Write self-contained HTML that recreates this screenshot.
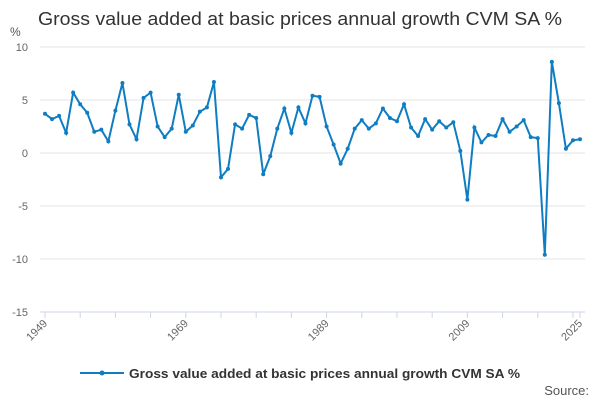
<!DOCTYPE html>
<html><head><meta charset="utf-8"><style>
body{margin:0;background:#fff;font-family:"Liberation Sans",sans-serif}
svg text{font-family:"Liberation Sans",sans-serif}
</style></head><body>
<svg width="600" height="400">
<text x="300" y="25" font-size="18" fill="#333" text-anchor="middle" textLength="524" lengthAdjust="spacingAndGlyphs">Gross value added at basic prices annual growth CVM SA %</text>
<text x="10" y="36" font-size="12" fill="#555">%</text>
<g id="grid"></g><g id="xaxis"></g>
<polyline id="line" fill="none" stroke="#0f7dc2" stroke-width="2"/>
<g id="pts"></g>
<line x1="80" y1="373" x2="124" y2="373" stroke="#0f7dc2" stroke-width="2"/>
<circle cx="102" cy="373" r="2.5" fill="#0f7dc2"/>
<text x="129" y="378" font-size="13" font-weight="bold" fill="#333" textLength="391" lengthAdjust="spacingAndGlyphs">Gross value added at basic prices annual growth CVM SA %</text>
<text x="589" y="395" font-size="13" fill="#555" text-anchor="end">Source:</text>
</svg>
<script>
const years=[];for(let y=1949;y<=2025;y++)years.push(y);
const values=[3.7,3.2,3.5,1.9,5.7,4.6,3.8,2.0,2.2,1.1,4.0,6.6,2.7,1.3,5.2,5.7,2.5,1.5,2.3,5.5,2.0,2.6,3.9,4.3,6.7,-2.3,-1.5,2.7,2.3,3.6,3.3,-2.0,-0.3,2.3,4.2,1.9,4.3,2.8,5.4,5.3,2.5,0.8,-1.0,0.4,2.3,3.1,2.3,2.8,4.2,3.3,3.0,4.6,2.4,1.6,3.2,2.2,3.0,2.4,2.9,0.2,-4.4,2.4,1.0,1.7,1.6,3.2,2.0,2.5,3.1,1.5,1.4,-9.6,8.6,4.7,0.4,1.2,1.3];
const yTicks=[10,5,0,-5,-10,-15];
const xLabels=[1949,1969,1989,2009,2025];
const NS="http://www.w3.org/2000/svg";
const X=v=>45+(v-1949)*(580-45)/(2025-1949);
const Y=v=>153-v*10.6;
function mk(t,a,p){const e=document.createElementNS(NS,t);for(const k in a)e.setAttribute(k,a[k]);p.appendChild(e);return e;}
const g=document.getElementById('grid');
yTicks.forEach(t=>{
 const l=mk('line',{x1:40,x2:585,y1:Y(t),y2:Y(t),stroke:t===-15?'#ccd6eb':'#e6e6e6','stroke-width':1},g);
 
 
 const tx=mk('text',{x:28,y:Y(t)+4,'font-size':11,fill:'#666','text-anchor':'end'},g);tx.textContent=t;
 
 
});
const xa=document.getElementById('xaxis');
for(let yr=1949;yr<=2025;yr+=5){
 const l=mk('line',{x1:X(yr),x2:X(yr),y1:312,y2:318,stroke:'#ccd6eb'},xa);
 
 }
[2025].forEach(yr=>{const l=mk('line',{x1:X(yr),x2:X(yr),y1:312,y2:318,stroke:'#ccd6eb'},xa);
 
 });
xLabels.forEach(yr=>{
 const tx=mk('text',{x:X(yr)+3,y:324,'font-size':11,fill:'#666','text-anchor':'end',transform:`rotate(-45 ${X(yr)+3} 324)`},xa);tx.textContent=yr;
 
 
});
document.getElementById('line').setAttribute('points',values.map((v,i)=>X(years[i])+','+Y(v)).join(' '));
const pg=document.getElementById('pts');
values.forEach((v,i)=>{const c=mk('circle',{cx:X(years[i]),cy:Y(v),r:2,fill:'#0f7dc2'},pg);
 
 });
</script>
</body></html>
